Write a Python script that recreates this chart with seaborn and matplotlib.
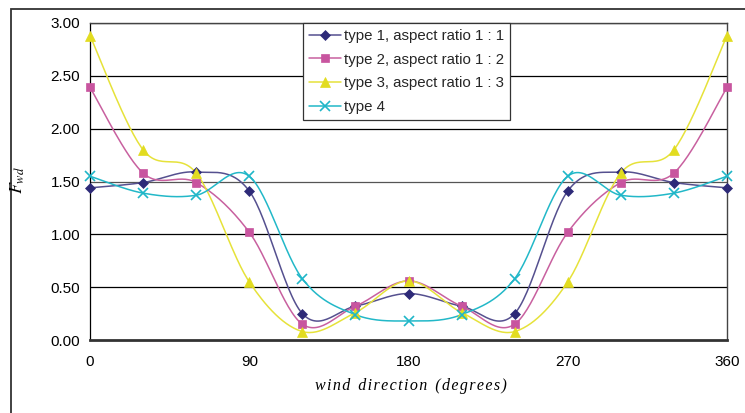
import numpy as np
import pandas as pd
import matplotlib
matplotlib.use("Agg")
import matplotlib.pyplot as plt
from matplotlib.lines import Line2D
from matplotlib.patches import Rectangle
import seaborn as sns

# ---- data ----
directions = [0, 30, 60, 90, 120, 150, 180, 210, 240, 270, 300, 330, 360]
type1 = [1.44, 1.49, 1.59, 1.41, 0.25, 0.32, 0.44, 0.32, 0.25, 1.41, 1.59, 1.49, 1.44]
type2 = [2.39, 1.58, 1.49, 1.02, 0.15, 0.32, 0.56, 0.32, 0.15, 1.02, 1.49, 1.58, 2.39]
type3 = [2.88, 1.80, 1.58, 0.55, 0.08, 0.26, 0.56, 0.26, 0.08, 0.55, 1.58, 1.80, 2.88]
type4 = [1.55, 1.39, 1.37, 1.55, 0.58, 0.24, 0.18, 0.24, 0.58, 1.55, 1.37, 1.39, 1.55]
series_names = ["type 1, aspect ratio 1 : 1", "type 2, aspect ratio 1 : 2",
                "type 3, aspect ratio 1 : 3", "type 4"]
x_ticks = [0, 90, 180, 270, 360]
y_ticks = [0.0, 0.5, 1.0, 1.5, 2.0, 2.5, 3.0]

series = [type1, type2, type3, type4]
line_colors = ["#55508f", "#c8609f", "#e6e23a", "#22b8c8"]
marker_colors = ["#2e2a78", "#c8559f", "#e2dc20", "#1fb6c8"]
markers = ["D", "s", "^", "x"]
msizes = [5, 6, 7, 7]


def smooth(xs, ys, n=30):
    """Excel-like smoothed line (Catmull-Rom Bezier) through the points."""
    P = np.column_stack([xs, ys]).astype(float)
    out = []
    m = len(P)
    for i in range(m - 1):
        p0 = P[i - 1] if i > 0 else P[i]
        p1 = P[i]
        p2 = P[i + 1]
        p3 = P[i + 2] if i + 2 < m else P[i + 1]
        c1 = p1 + (p2 - p0) / 6.0
        c2 = p2 - (p3 - p1) / 6.0
        t = np.linspace(0, 1, n, endpoint=(i == m - 2))[:, None]
        b = ((1 - t) ** 3) * p1 + 3 * ((1 - t) ** 2) * t * c1 + 3 * (1 - t) * t ** 2 * c2 + t ** 3 * p2
        out.append(b)
    out = np.vstack(out)
    return out[:, 0], out[:, 1]


sns.set_theme(style="white")
plt.rcParams["font.family"] = ["Liberation Sans", "DejaVu Sans"]
plt.rcParams["mathtext.fontset"] = "stix"

fig = plt.figure(figsize=(7.45, 4.13), dpi=100)
L, R, T, B = 90, 727, 23, 340
ax = fig.add_axes([L / 745, 1 - B / 413, (R - L) / 745, (B - T) / 413])

# outer chart border
fig.patches.append(Rectangle((10.5 / 745, -0.2), 2.0, 1 - 8.5 / 413 + 0.2,
                             transform=fig.transFigure, fill=False,
                             edgecolor="#333333", linewidth=1.3))

handles = []
for name, ys, lc, mc, mk, ms in zip(series_names, series, line_colors, marker_colors, markers, msizes):
    sx, sy = smooth(directions, ys)
    df = pd.DataFrame({"x": sx, "y": sy})
    sns.lineplot(data=df, x="x", y="y", sort=False, estimator=None, ax=ax,
                 color=lc, linewidth=1.1, zorder=3)
    ax.plot(directions, ys, linestyle="none", marker=mk, markersize=ms,
            color=mc, markeredgecolor=mc, markeredgewidth=1.2 if mk == "x" else 0.5,
            zorder=4, clip_on=False)
    handles.append(Line2D([0], [0], color=lc, linewidth=1.1, marker=mk, markersize=ms,
                          markerfacecolor=mc, markeredgecolor=mc,
                          markeredgewidth=1.2 if mk == "x" else 0.5))

ax.set_xlim(0, 360)
ax.set_ylim(0, 3.0)
ax.set_xticks(x_ticks)
ax.set_xticklabels([str(v) for v in x_ticks])
ax.set_yticks(y_ticks)
ax.set_yticklabels([f"{v:.2f}" for v in y_ticks])
ax.tick_params(axis="both", labelsize=11, colors="black", direction="out",
               length=4, width=0.8, pad=3)
ax.tick_params(axis="x", pad=7)
ax.set_xlabel("")
ax.set_ylabel("")

for y in y_ticks[1:]:
    ax.axhline(y, color="#555555" if y == 1.5 else "black", linewidth=0.9, zorder=1)

for side in ["top", "right"]:
    ax.spines[side].set_color("#444444")
    ax.spines[side].set_linewidth(1.0)
ax.spines["left"].set_color("black")
ax.spines["left"].set_linewidth(0.9)
ax.spines["bottom"].set_color("#333333")
ax.spines["bottom"].set_linewidth(2.0)

leg = ax.legend(handles, series_names, loc="upper left",
                bbox_to_anchor=((303 - L) / (R - L), 1.0), borderaxespad=0,
                fontsize=10.8, frameon=True, fancybox=False, handlelength=2.1,
                handletextpad=0.25, labelspacing=0.64, borderpad=0.4)
leg.get_frame().set_edgecolor("#333333")
leg.get_frame().set_linewidth(0.9)
leg.get_frame().set_facecolor("white")
leg.get_frame().set_alpha(1.0)
leg.set_zorder(10)

fig.text(18 / 745, 1 - 180 / 413, r"$F_{wd}$", rotation=90, ha="center", va="center",
         fontsize=13, color="black")
hair = "\u200a"
xlabel = "  ".join(hair.join(w) for w in ["wind", "direction", "(degrees)"])
fig.text(411 / 745, 1 - 386 / 413, xlabel,
         ha="center", va="center", fontsize=11.5, style="italic",
         family=["Liberation Serif", "DejaVu Serif"], color="black")

fig.savefig("out.png", dpi=100)
